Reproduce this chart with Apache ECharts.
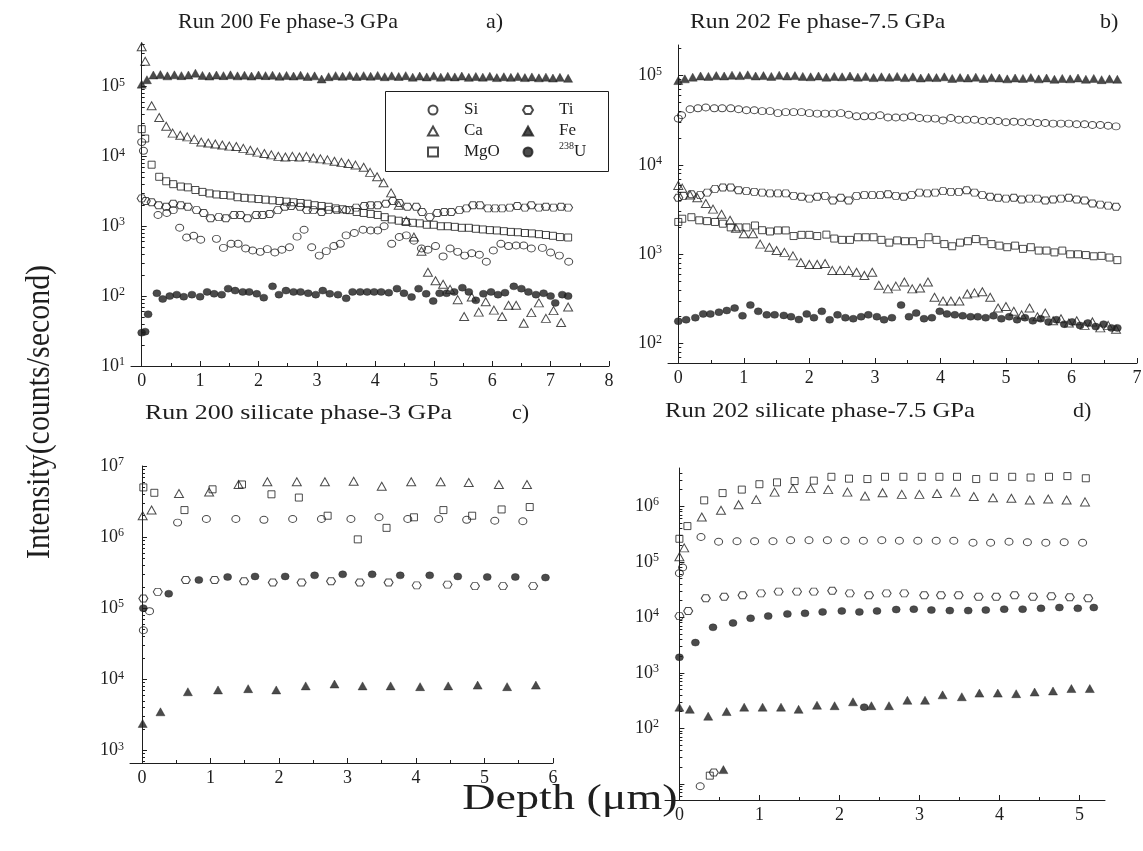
<!DOCTYPE html>
<html>
<head>
<meta charset="utf-8">
<script src="https://cdn.jsdelivr.net/npm/echarts@6/dist/echarts.min.js"></script>
<style>
  html, body { margin: 0; padding: 0; background: #ffffff; }
  #chart { width: 1143px; height: 851px; }
</style>
</head>
<body>
<div id="chart"></div>
<script>
// ---------- data: [depth (µm), intensity (counts/s)] ----------
// a) Run 200, Fe phase, 3 GPa
const a_Si = [[0,16000],[0.03,12000],[0.28,1450],[0.43,1550],[0.54,1700],[0.65,950],[0.77,690],[0.89,730],[1.01,640],[1.28,660],[1.4,490],[1.53,560],[1.65,560],[1.78,480],[1.9,450],[2.03,430],[2.15,470],[2.28,420],[2.4,460],[2.53,500],[2.66,710],[2.78,890],[2.91,500],[3.04,380],[3.16,440],[3.29,520],[3.4,560],[3.5,740],[3.64,800],[3.79,890],[3.92,870],[4.04,870],[4.15,1000],[4.28,560],[4.41,700],[4.53,740],[4.66,620],[4.79,480],[4.9,460],[5.03,520],[5.16,370],[5.28,480],[5.41,430],[5.53,380],[5.65,410],[5.78,390],[5.9,310],[6.02,450],[6.15,560],[6.28,520],[6.41,530],[6.54,530],[6.67,480],[6.86,490],[7.0,420],[7.15,380],[7.31,310]];
const a_Ca = [[0,370000],[0.06,230000],[0.17,53000],[0.3,36000],[0.42,27000],[0.53,21500],[0.66,20000],[0.78,19000],[0.9,17500],[1.02,16000],[1.14,15500],[1.26,15000],[1.38,14500],[1.5,14000],[1.62,13800],[1.74,13000],[1.86,12200],[1.98,11500],[2.1,11000],[2.22,10500],[2.34,10000],[2.46,9800],[2.58,10000],[2.7,9800],[2.82,10000],[2.94,9500],[3.06,9200],[3.18,8900],[3.3,8500],[3.42,8200],[3.54,7900],[3.66,7500],[3.8,7000],[3.91,5900],[4.03,5100],[4.14,4200],[4.27,3000],[4.4,2000],[4.53,1200],[4.66,700],[4.79,440],[4.9,220],[5.03,166],[5.16,148],[5.28,125],[5.41,89],[5.52,51],[5.65,97],[5.77,59],[5.89,83],[6.03,63],[6.17,51],[6.28,74],[6.41,74],[6.54,41],[6.67,58],[6.8,80],[6.92,48],[7.05,62],[7.18,42],[7.3,70]];
const a_MgO = [[0,24500],[0.06,18000],[0.17,7600],[0.3,5100],[0.42,4400],[0.54,4000],[0.67,3700],[0.79,3600],[0.92,3300],[1.04,3100],[1.16,2950],[1.28,2850],[1.4,2800],[1.52,2750],[1.64,2600],[1.76,2550],[1.88,2500],[2.0,2450],[2.12,2400],[2.24,2350],[2.36,2300],[2.48,2250],[2.6,2200],[2.72,2150],[2.84,2100],[2.96,2000],[3.08,1950],[3.2,1900],[3.32,1800],[3.44,1750],[3.56,1700],[3.68,1600],[3.8,1550],[3.92,1500],[4.04,1450],[4.16,1350],[4.28,1250],[4.4,1200],[4.52,1150],[4.64,1120],[4.76,1100],[4.88,1050],[5.0,1050],[5.12,1000],[5.24,1000],[5.36,980],[5.48,950],[5.6,950],[5.72,920],[5.84,900],[5.96,880],[6.08,870],[6.2,850],[6.32,830],[6.44,820],[6.56,800],[6.68,790],[6.8,770],[6.92,750],[7.04,730],[7.16,700],[7.3,690]];
const a_Ti = [[0,2500],[0.07,2300],[0.17,2200],[0.29,2000],[0.42,1900],[0.54,2100],[0.67,2000],[0.79,1900],[0.94,1700],[1.06,1550],[1.18,1300],[1.32,1350],[1.44,1300],[1.58,1450],[1.69,1450],[1.81,1300],[1.96,1450],[2.07,1450],[2.19,1500],[2.33,1700],[2.45,1900],[2.56,1950],[2.71,1900],[2.83,1700],[2.94,1700],[3.08,1600],[3.2,1700],[3.34,1700],[3.5,1700],[3.67,1850],[3.81,1950],[3.92,2000],[4.04,2000],[4.18,2100],[4.3,2300],[4.41,2150],[4.55,1900],[4.7,1900],[4.8,1600],[4.93,1350],[5.06,1550],[5.18,1600],[5.3,1600],[5.44,1700],[5.56,1800],[5.67,2000],[5.79,2000],[5.93,1800],[6.05,1800],[6.17,1800],[6.3,1850],[6.43,1950],[6.56,1850],[6.67,2000],[6.8,1850],[6.92,1900],[7.05,1850],[7.18,1900],[7.3,1850]];
const a_Fe = [[0,108000],[0.09,125000],[0.2,146000],[0.32,148000],[0.44,142000],[0.56,147000],[0.68,143000],[0.8,146000],[0.92,155000],[1.04,144000],[1.16,141000],[1.28,146000],[1.4,143000],[1.52,147000],[1.64,142000],[1.76,145000],[1.88,141000],[2.0,146000],[2.12,143000],[2.24,145000],[2.36,140000],[2.48,144000],[2.6,141000],[2.72,145000],[2.84,139000],[2.96,142000],[3.08,128000],[3.2,138000],[3.32,143000],[3.44,140000],[3.56,144000],[3.68,139000],[3.8,143000],[3.92,140000],[4.04,144000],[4.16,138000],[4.28,142000],[4.4,139000],[4.52,143000],[4.64,136000],[4.76,141000],[4.88,137000],[5.0,142000],[5.12,136000],[5.24,140000],[5.36,137000],[5.48,141000],[5.6,135000],[5.72,139000],[5.84,136000],[5.96,140000],[6.08,134000],[6.2,138000],[6.32,135000],[6.44,139000],[6.56,134000],[6.68,137000],[6.8,133000],[6.92,136000],[7.04,132000],[7.16,135000],[7.3,131000]];
const a_U = [[0,30],[0.06,31],[0.11,55],[0.26,110],[0.36,91],[0.48,100],[0.6,105],[0.72,98],[0.86,105],[1.0,98],[1.12,115],[1.24,108],[1.37,105],[1.48,128],[1.6,120],[1.73,115],[1.84,115],[1.97,108],[2.09,95],[2.24,138],[2.35,105],[2.47,120],[2.6,115],[2.72,115],[2.85,110],[2.98,105],[3.1,120],[3.22,108],[3.36,105],[3.5,93],[3.61,115],[3.74,115],[3.86,115],[3.98,115],[4.1,115],[4.23,112],[4.37,128],[4.49,110],[4.62,97],[4.74,128],[4.87,108],[4.99,85],[5.1,110],[5.22,110],[5.35,115],[5.49,132],[5.6,115],[5.72,87],[5.85,108],[5.98,115],[6.1,105],[6.22,112],[6.37,138],[6.5,128],[6.62,115],[6.75,105],[6.88,110],[7.0,100],[7.08,80],[7.2,105],[7.3,100]];

// b) Run 202, Fe phase, 7.5 GPa
const b_Si = [[0,33000],[0.05,36000],[0.18,42000],[0.3,43000],[0.42,44000],[0.55,43000],[0.67,43000],[0.8,43000],[0.92,42000],[1.04,41000],[1.16,41000],[1.28,40000],[1.4,40000],[1.52,38000],[1.64,39000],[1.76,39000],[1.88,39000],[2.0,38000],[2.12,37500],[2.24,37500],[2.36,37500],[2.48,38000],[2.6,36500],[2.72,35000],[2.84,35000],[2.96,35000],[3.08,36000],[3.2,34000],[3.32,34000],[3.44,34000],[3.56,35000],[3.68,33500],[3.8,33000],[3.92,33000],[4.04,31500],[4.16,33500],[4.28,32000],[4.4,32000],[4.52,32000],[4.64,31000],[4.76,31000],[4.88,31000],[5.0,30000],[5.12,30500],[5.24,30000],[5.36,30000],[5.48,29500],[5.6,29500],[5.72,29000],[5.84,29000],[5.96,29000],[6.08,28500],[6.2,28500],[6.32,28000],[6.44,28000],[6.56,27500],[6.68,27000]];
const b_Ca = [[0,5900],[0.06,5500],[0.18,4600],[0.29,4300],[0.42,3700],[0.53,3200],[0.66,2800],[0.79,2400],[0.88,1960],[1.0,1700],[1.14,1700],[1.25,1300],[1.39,1200],[1.5,1100],[1.62,1050],[1.75,960],[1.87,810],[2.0,770],[2.12,770],[2.24,790],[2.35,660],[2.47,660],[2.6,660],[2.72,630],[2.84,580],[2.96,630],[3.06,450],[3.2,410],[3.32,440],[3.45,490],[3.57,410],[3.69,420],[3.81,490],[3.91,330],[4.04,300],[4.16,300],[4.29,300],[4.41,360],[4.52,370],[4.64,380],[4.76,330],[4.88,250],[5.0,260],[5.12,230],[5.24,210],[5.36,250],[5.48,200],[5.6,220],[5.72,180],[5.84,190],[5.96,170],[6.08,180],[6.2,160],[6.32,175],[6.44,150],[6.56,160],[6.68,145]];
const b_MgO = [[0,2300],[0.06,2500],[0.2,2600],[0.32,2400],[0.44,2350],[0.56,2300],[0.68,2200],[0.8,2000],[0.92,2000],[1.04,2000],[1.17,2100],[1.28,1860],[1.4,1800],[1.52,1850],[1.64,1850],[1.76,1600],[1.88,1650],[2.0,1650],[2.12,1600],[2.26,1660],[2.38,1500],[2.5,1450],[2.62,1450],[2.74,1550],[2.86,1550],[2.98,1550],[3.1,1450],[3.22,1350],[3.34,1430],[3.46,1400],[3.58,1400],[3.7,1300],[3.82,1550],[3.94,1450],[4.06,1300],[4.18,1230],[4.3,1350],[4.42,1400],[4.54,1480],[4.66,1400],[4.78,1300],[4.9,1250],[5.02,1200],[5.14,1250],[5.26,1150],[5.38,1200],[5.5,1100],[5.62,1100],[5.74,1050],[5.86,1100],[5.98,1000],[6.1,1000],[6.22,980],[6.34,950],[6.46,960],[6.58,920],[6.7,860]];
const b_Ti = [[0,4300],[0.08,4500],[0.2,4700],[0.33,4600],[0.44,4900],[0.56,5400],[0.68,5600],[0.8,5600],[0.92,5200],[1.04,5100],[1.16,5000],[1.28,4900],[1.4,4800],[1.52,4800],[1.64,4800],[1.76,4500],[1.88,4400],[2.0,4200],[2.12,4400],[2.24,4500],[2.36,4000],[2.48,4300],[2.6,4000],[2.72,4500],[2.84,4600],[2.96,4600],[3.08,4600],[3.2,4700],[3.32,4500],[3.44,4400],[3.56,4600],[3.68,4900],[3.8,4800],[3.92,4900],[4.04,5100],[4.16,5000],[4.28,5000],[4.4,5200],[4.52,4900],[4.64,4600],[4.76,4400],[4.88,4300],[5.0,4200],[5.12,4300],[5.24,4100],[5.36,4200],[5.48,4200],[5.6,4000],[5.72,4100],[5.84,4200],[5.96,4300],[6.08,4100],[6.2,4000],[6.32,3700],[6.44,3600],[6.56,3500],[6.68,3400]];
const b_Fe = [[0,88000],[0.1,92000],[0.22,96000],[0.34,99000],[0.46,98000],[0.58,100000],[0.7,99000],[0.82,101000],[0.94,100000],[1.06,102000],[1.18,99000],[1.3,100000],[1.42,98000],[1.54,101000],[1.66,99000],[1.78,100000],[1.9,98000],[2.02,97000],[2.14,99000],[2.26,96000],[2.38,98000],[2.5,97000],[2.62,99000],[2.74,96000],[2.86,98000],[2.98,95000],[3.1,97000],[3.22,96000],[3.34,98000],[3.46,95000],[3.58,97000],[3.7,94000],[3.82,96000],[3.94,95000],[4.06,97000],[4.18,93000],[4.3,95000],[4.42,94000],[4.54,96000],[4.66,93000],[4.78,95000],[4.9,94000],[5.02,92000],[5.14,94000],[5.26,93000],[5.38,95000],[5.5,92000],[5.62,94000],[5.74,91000],[5.86,93000],[5.98,92000],[6.1,94000],[6.22,91000],[6.34,93000],[6.46,90000],[6.58,92000],[6.7,91000]];
const b_U = [[0,178],[0.12,185],[0.26,195],[0.38,215],[0.49,215],[0.62,225],[0.74,235],[0.86,250],[0.98,205],[1.1,270],[1.22,230],[1.35,210],[1.47,210],[1.61,207],[1.72,200],[1.84,186],[1.96,215],[2.07,195],[2.19,230],[2.31,185],[2.43,210],[2.55,195],[2.67,190],[2.79,200],[2.9,210],[3.03,200],[3.14,185],[3.26,195],[3.4,270],[3.52,200],[3.63,220],[3.75,190],[3.87,195],[3.99,230],[4.1,215],[4.22,210],[4.34,205],[4.46,200],[4.57,200],[4.69,195],[4.81,205],[4.93,190],[5.05,200],[5.17,185],[5.29,195],[5.41,180],[5.53,190],[5.65,175],[5.77,185],[5.89,165],[6.01,175],[6.13,160],[6.25,170],[6.37,155],[6.49,165],[6.61,150],[6.7,150]];

// c) Run 200, silicate phase, 3 GPa
const c_Si = [[0.02,49000],[0.11,91000],[0.52,1600000],[0.94,1800000],[1.37,1800000],[1.78,1750000],[2.2,1800000],[2.62,1800000],[3.05,1800000],[3.46,1900000],[3.88,1800000],[4.33,1800000],[4.74,1750000],[5.15,1700000],[5.56,1670000]];
const c_Ca = [[0.01,2000000],[0.14,2400000],[0.54,4100000],[0.98,4300000],[1.41,5500000],[1.83,6000000],[2.26,6000000],[2.67,6000000],[3.09,6100000],[3.5,5200000],[3.93,6000000],[4.36,6000000],[4.77,5850000],[5.21,5500000],[5.62,5500000]];
const c_MgO = [[0.02,5000000],[0.18,4200000],[0.62,2400000],[1.03,4700000],[1.46,5500000],[1.89,4000000],[2.29,3600000],[2.71,2000000],[3.15,930000],[3.57,1350000],[3.97,1900000],[4.4,2400000],[4.82,2000000],[5.25,2450000],[5.66,2650000]];
const c_Ti = [[0.02,137000],[0.23,170000],[0.64,250000],[1.06,250000],[1.49,240000],[1.91,230000],[2.33,230000],[2.76,240000],[3.18,230000],[3.6,230000],[4.01,210000],[4.46,215000],[4.86,205000],[5.27,205000],[5.71,205000]];
const c_Fe = [[0.01,2400],[0.27,3500],[0.67,6700],[1.11,7100],[1.55,7400],[1.96,7100],[2.39,8100],[2.81,8600],[3.22,8100],[3.63,8100],[4.06,7900],[4.47,8100],[4.9,8300],[5.33,7900],[5.75,8300]];
const c_U = [[0.02,100000],[0.39,160000],[0.83,250000],[1.25,275000],[1.65,280000],[2.09,280000],[2.52,290000],[2.93,300000],[3.36,300000],[3.77,290000],[4.2,290000],[4.61,280000],[5.04,275000],[5.45,275000],[5.89,270000]];

// d) Run 202, silicate phase, 7.5 GPa
const d_Si = [[0,62000],[0.04,79000],[0.27,280000],[0.49,230000],[0.72,235000],[0.94,235000],[1.17,235000],[1.39,245000],[1.62,245000],[1.85,245000],[2.07,240000],[2.3,240000],[2.53,245000],[2.75,240000],[2.98,240000],[3.21,240000],[3.43,240000],[3.67,220000],[3.89,220000],[4.12,230000],[4.35,225000],[4.58,220000],[4.81,225000],[5.04,220000],[0.26,9]];
const d_Ca = [[0,123000],[0.06,178000],[0.28,640000],[0.52,850000],[0.74,1070000],[0.96,1320000],[1.19,1800000],[1.42,2080000],[1.64,2080000],[1.86,2000000],[2.1,1800000],[2.32,1530000],[2.54,1760000],[2.78,1640000],[3.0,1640000],[3.22,1700000],[3.45,1800000],[3.68,1500000],[3.92,1430000],[4.15,1400000],[4.38,1300000],[4.61,1350000],[4.84,1300000],[5.07,1200000]];
const d_MgO = [[0,260000],[0.1,440000],[0.31,1280000],[0.54,1730000],[0.78,2000000],[1.0,2500000],[1.22,2700000],[1.44,2850000],[1.68,2900000],[1.9,3400000],[2.12,3150000],[2.35,3100000],[2.57,3400000],[2.8,3400000],[3.03,3400000],[3.25,3400000],[3.47,3400000],[3.71,3100000],[3.93,3400000],[4.16,3400000],[4.39,3300000],[4.62,3400000],[4.85,3500000],[5.08,3200000],[0.38,14]];
const d_Ti = [[0,10500],[0.11,13000],[0.33,22000],[0.56,23500],[0.79,25000],[1.02,27000],[1.24,29000],[1.47,29000],[1.68,29000],[1.91,30000],[2.13,27000],[2.37,25000],[2.59,27000],[2.81,27000],[3.06,25000],[3.27,25000],[3.49,25000],[3.74,23500],[3.96,23500],[4.19,25000],[4.42,23500],[4.65,24000],[4.88,23000],[5.11,22000],[0.43,16]];
const d_Fe = [[0,240],[0.13,220],[0.36,165],[0.59,200],[0.81,240],[1.04,240],[1.27,240],[1.49,220],[1.72,260],[1.94,255],[2.17,300],[2.4,255],[2.62,255],[2.85,320],[3.07,320],[3.29,400],[3.53,370],[3.75,430],[3.98,430],[4.21,420],[4.44,450],[4.67,470],[4.9,520],[5.13,520],[0.55,18]];
const d_U = [[0,1900],[0.2,3500],[0.42,6600],[0.67,7900],[0.89,9600],[1.11,10500],[1.35,11500],[1.57,11800],[1.79,12500],[2.03,13000],[2.25,12500],[2.47,13000],[2.71,13800],[2.93,14000],[3.15,13500],[3.38,13200],[3.61,13200],[3.83,13500],[4.06,14000],[4.29,14000],[4.52,14500],[4.75,15000],[4.98,14500],[5.18,15000],[2.31,240]];

// ---------- tick values ----------
const a_xTicks = [0, 1, 2, 3, 4, 5, 6, 7, 8];
const b_xTicks = [0, 1, 2, 3, 4, 5, 6, 7];
const c_xTicks = [0, 1, 2, 3, 4, 5, 6];
const d_xTicks = [0, 1, 2, 3, 4, 5];
const a_yTicks = [1e1, 1e2, 1e3, 1e4, 1e5];
const b_yTicks = [1e2, 1e3, 1e4, 1e5];
const c_yTicks = [1e3, 1e4, 1e5, 1e6, 1e7];
const d_yTicks = [1e2, 1e3, 1e4, 1e5, 1e6];

const titles = ['Run 200 Fe phase-3 GPa', 'Run 202 Fe phase-7.5 GPa', 'Run 200 silicate phase-3 GPa', 'Run 202 silicate phase-7.5 GPa'];
const tags = ['a)', 'b)', 'c)', 'd)'];
const elements = ['Si', 'Ca', 'MgO', 'Ti', 'Fe', '238U'];

// ---------- styling ----------
const INK = '#1e1e1e';
const SERIF = '"Liberation Serif", "DejaVu Serif", serif';
const HEX = 'path://M0,4 L2.4,0 L7.6,0 L10,4 L7.6,8 L2.4,8 Z';
const MARK = {
  'Si':   { symbol: 'circle',   size: [8, 7], open: true },
  'Ca':   { symbol: 'triangle', size: [9, 8], open: true },
  'MgO':  { symbol: 'rect',     size: [7, 7], open: true },
  'Ti':   { symbol: HEX,        size: [9, 7], open: true },
  'Fe':   { symbol: 'triangle', size: [9, 8], open: false },
  '238U': { symbol: 'circle',   size: [8, 7], open: false }
};

const PANELS = [
  { grid: { left: 131, top: 43, width: 478, height: 323 }, x: [-0.183, 8], y: [10, 419000], xt: a_xTicks, yt: a_yTicks,
    data: { 'Si': a_Si, 'Ca': a_Ca, 'MgO': a_MgO, 'Ti': a_Ti, 'Fe': a_Fe, '238U': a_U },
    title: { x: 178, y: 22, sx: 1.0 }, tag: { x: 486, y: 22 } },
  { grid: { left: 668, top: 45, width: 469, height: 318 }, x: [-0.157, 7], y: [60.7, 220000], xt: b_xTicks, yt: b_yTicks,
    data: { 'Si': b_Si, 'Ca': b_Ca, 'MgO': b_MgO, 'Ti': b_Ti, 'Fe': b_Fe, '238U': b_U },
    title: { x: 690, y: 22, sx: 1.08 }, tag: { x: 1100, y: 22 } },
  { grid: { left: 130, top: 466, width: 423, height: 297 }, x: [-0.175, 6], y: [667, 1e7], xt: c_xTicks, yt: c_yTicks,
    data: { 'Si': c_Si, 'Ca': c_Ca, 'MgO': c_MgO, 'Ti': c_Ti, 'Fe': c_Fe, '238U': c_U },
    title: { x: 145, y: 413, sx: 1.18 }, tag: { x: 512, y: 413 } },
  { grid: { left: 665, top: 468, width: 440, height: 332 }, x: [-0.18, 5.32], y: [5.1, 4.9e6], xt: d_xTicks, yt: d_yTicks,
    data: { 'Si': d_Si, 'Ca': d_Ca, 'MgO': d_MgO, 'Ti': d_Ti, 'Fe': d_Fe, '238U': d_U },
    title: { x: 665, y: 411, sx: 1.12 }, tag: { x: 1073, y: 411 } }
];

function inRange(vals, r) { return vals.filter(v => v >= r[0] - 1e-9 && v <= r[1] + 1e-9); }
function minorLog(r) {
  const out = [];
  for (let e = -1; e <= 8; e++) for (let k = 2; k <= 9; k++) out.push(k * Math.pow(10, e));
  return inRange(out, r);
}
function majorLog(r) {
  const out = [];
  for (let e = -1; e <= 8; e++) out.push(Math.pow(10, e));
  return inRange(out, r);
}
function minorLin(r) {
  const out = [];
  for (let v = Math.ceil(r[0]); v < r[1]; v++) out.push(v + 0.5);
  return inRange(out, r);
}

const grids = [], xAxes = [], yAxes = [], series = [];
const labelFont = { color: INK, fontFamily: SERIF, fontSize: 18 };

PANELS.forEach((p, i) => {
  grids.push(Object.assign({ containLabel: false, outerBoundsMode: 'none' }, p.grid));
  // main x axis
  xAxes.push({
    type: 'value', gridIndex: i, position: 'bottom', min: p.x[0], max: p.x[1],
    axisLine: { show: true, onZero: false, lineStyle: { color: INK, width: 1 } },
    axisTick: { show: true, inside: true, length: 5, customValues: inRange(p.xt, p.x), lineStyle: { color: INK } },
    axisLabel: Object.assign({ customValues: inRange(p.xt, p.x), margin: 6 }, labelFont),
    splitLine: { show: false }
  });
  // half-unit minor ticks
  xAxes.push({
    type: 'value', gridIndex: i, position: 'bottom', min: p.x[0], max: p.x[1],
    axisLine: { show: false, onZero: false }, axisLabel: { show: false },
    axisTick: { show: true, inside: true, length: 3, customValues: minorLin(p.x), lineStyle: { color: INK } },
    splitLine: { show: false }
  });
  // main log y axis: ticks at every decade, labels where given
  yAxes.push({
    type: 'log', logBase: 10, gridIndex: i, position: 'left', min: p.y[0], max: p.y[1],
    axisLine: { show: true, lineStyle: { color: INK, width: 1 } },
    axisTick: { show: true, inside: true, length: 5, customValues: majorLog(p.y), lineStyle: { color: INK } },
    axisLabel: Object.assign({
      customValues: inRange(p.yt, p.y), margin: 6,
      formatter: v => '10{e|' + Math.round(Math.log10(v)) + '}',
      rich: { e: { fontSize: 12, fontFamily: SERIF, color: INK, verticalAlign: 'top', padding: [0, 0, 8, 0] } }
    }, labelFont),
    splitLine: { show: false }
  });
  // minor log ticks at 2..9 of each decade
  yAxes.push({
    type: 'log', logBase: 10, gridIndex: i, position: 'left', min: p.y[0], max: p.y[1],
    axisLine: { show: false }, axisLabel: { show: false },
    axisTick: { show: true, inside: true, length: 3, customValues: minorLog(p.y), lineStyle: { color: INK } },
    splitLine: { show: false }
  });
  elements.forEach(name => {
    const m = MARK[name];
    series.push({
      type: 'scatter', name: name, xAxisIndex: i * 2, yAxisIndex: i * 2,
      data: p.data[name], symbol: m.symbol, symbolSize: m.size,
      itemStyle: m.open
        ? { color: 'rgba(255,255,255,0)', borderColor: INK, borderWidth: 1 }
        : { color: INK, borderColor: INK, borderWidth: 0.5 },
      emphasis: { disabled: true }, silent: true
    });
  });
});

// titles and axis names
const graphics = [];
PANELS.forEach((p, i) => {
  graphics.push({ type: 'text', x: p.title.x, y: p.title.y, scaleX: p.title.sx,
    style: { text: titles[i], font: '22px ' + SERIF, fill: INK, align: 'left', verticalAlign: 'middle' } });
  graphics.push({ type: 'text', x: p.tag.x, y: p.tag.y,
    style: { text: tags[i], font: '22px ' + SERIF, fill: INK, align: 'left', verticalAlign: 'middle' } });
});
graphics.push({ type: 'text', x: 40, y: 412, rotation: Math.PI / 2, scaleX: 0.88,
  style: { text: 'Intensity(counts/second)', font: '34px ' + SERIF, fill: INK, align: 'center', verticalAlign: 'middle' } });
graphics.push({ type: 'text', x: 570, y: 800, scaleX: 1.28,
  style: { text: 'Depth (\u03bcm)', font: '36px ' + SERIF, fill: INK, align: 'center', verticalAlign: 'middle' } });
// frame around the legend
graphics.push({ type: 'rect', shape: { x: 385.5, y: 91.5, width: 223, height: 80 },
  style: { fill: 'none', stroke: INK, lineWidth: 1 } });

const legendText = {
  color: INK, fontFamily: SERIF, fontSize: 17, lineHeight: 21,
  rich: {
    g: { width: 21 },
    s: { fontSize: 10, fontFamily: SERIF, color: INK, verticalAlign: 'top', lineHeight: 14 }
  }
};
const legendFmt = name => name === '238U' ? '{g|}{s|238}U' : '{g|}' + name;
const legendBase = { orient: 'vertical', itemWidth: 10, itemHeight: 9, itemGap: 0, padding: 0,
  selectedMode: false, textStyle: legendText, formatter: legendFmt };

const option = {
  backgroundColor: '#ffffff',
  animation: false,
  grid: grids,
  xAxis: xAxes,
  yAxis: yAxes,
  series: series,
  legend: [
    Object.assign({ left: 427, top: 99.5, data: ['Si', 'Ca', 'MgO'] }, legendBase),
    Object.assign({ left: 522, top: 99.5, data: ['Ti', 'Fe', '238U'] }, legendBase)
  ],
  graphic: graphics
};

const chart = echarts.init(document.getElementById('chart'), null, { renderer: 'canvas' });
chart.setOption(option);
</script>
</body>
</html>
